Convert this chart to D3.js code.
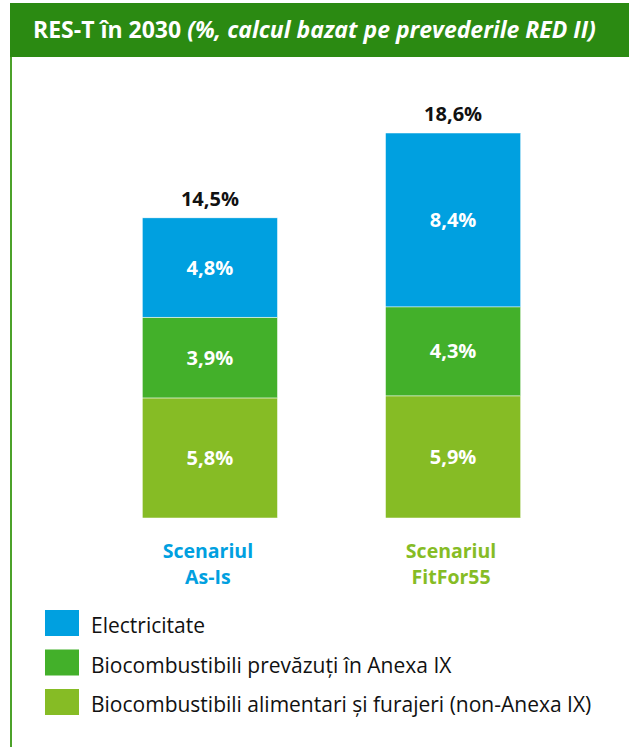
<!DOCTYPE html>
<html>
<head>
<meta charset="utf-8">
<script src="https://cdn.jsdelivr.net/npm/d3@7"></script>
<style>
  body { margin: 0; background: #fff; }
  svg { display: block; font-family: "Open Sans", Lato, sans-serif; }
</style>
</head>
<body>
<svg id="chart" width="629" height="747"></svg>
<script>
// data
const scenarios = ["As-Is", "FitFor55"];
const seriesNames = ["Biocombustibili alimentari și furajeri (non-Anexa IX)", "Biocombustibili prevăzuți în Anexa IX", "Electricitate"];
const nonAnexa = [5.8, 5.9];
const anexaIX = [3.9, 4.3];
const electricitate = [4.8, 8.4];
const totals = [14.5, 18.6];

const colors = ["#86bc25", "#43b02a", "#00a0e0"];
const catColors = ["#00a0e0", "#86bc25"];

const svg = d3.select("#chart");
const fmt = v => d3.format(".1f")(v).replace(".", ",") + "%";

// header + left border
svg.append("rect").attr("x", 10).attr("y", 3).attr("width", 619).attr("height", 54).attr("fill", "#2b8a12");
svg.append("rect").attr("x", 10).attr("y", 57).attr("width", 2).attr("height", 690).attr("fill", "#4ca22a");

const title = svg.append("text").attr("x", 33).attr("y", 38)
  .attr("fill", "#fff").attr("font-size", 23).attr("font-weight", "bold");
title.append("tspan").text("RES-T în 2030 ");
title.append("tspan").attr("font-style", "italic").text("(%, calcul bazat pe prevederile RED II)");

// scales
const x = d3.scaleBand().domain(scenarios).range([45, 618]).paddingInner(0.444).paddingOuter(0.4);
const y = d3.scaleLinear().domain([0, 18.6]).range([518, 133]);

const rows = scenarios.map((s, i) => ({ scen: s, nonAnexa: nonAnexa[i], anexaIX: anexaIX[i], electricitate: electricitate[i] }));
const stack = d3.stack().keys(["nonAnexa", "anexaIX", "electricitate"])(rows);

const layers = svg.selectAll("g.layer").data(stack).enter().append("g").attr("fill", (d, i) => colors[i]);
layers.selectAll("rect").data(d => d).enter().append("rect")
  .attr("x", d => x(d.data.scen))
  .attr("width", x.bandwidth())
  .attr("y", d => y(d[1]))
  .attr("height", d => y(d[0]) - y(d[1]))
  .attr("stroke", "#fff").attr("stroke-width", 0.5);

layers.selectAll("text").data(d => d).enter().append("text")
  .attr("x", d => x(d.data.scen) + x.bandwidth() / 2)
  .attr("y", d => (y(d[0]) + y(d[1])) / 2)
  .attr("dy", "0.35em")
  .attr("text-anchor", "middle")
  .attr("fill", "#fff").attr("font-size", 20).attr("font-weight", "bold")
  .text(d => fmt(d[1] - d[0]));

// totals
svg.selectAll("text.total").data(scenarios).enter().append("text")
  .attr("class", "total")
  .attr("x", d => x(d) + x.bandwidth() / 2)
  .attr("y", (d, i) => y(totals[i]) - 12)
  .attr("text-anchor", "middle")
  .attr("font-size", 20).attr("font-weight", "bold").attr("fill", "#111")
  .text((d, i) => fmt(totals[i]));

// category labels
scenarios.forEach((s, i) => {
  const cx = x(s) + x.bandwidth() / 2 - 2;
  const t = svg.append("text")
    .attr("text-anchor", "middle")
    .attr("font-size", 19.5).attr("font-weight", "bold").attr("fill", catColors[i]);
  t.append("tspan").attr("x", cx).attr("y", 558).text("Scenariul");
  t.append("tspan").attr("x", cx).attr("y", 584).text(s);
});

// legend (top to bottom: electricitate first)
const legendOrder = [2, 1, 0];
const leg = svg.selectAll("g.leg").data(legendOrder).enter().append("g")
  .attr("transform", (d, i) => `translate(45, ${610 + i * 39.5})`);
leg.append("rect").attr("width", 34).attr("height", 26).attr("fill", d => colors[d]);
leg.append("text").attr("x", 46).attr("y", 23)
  .attr("font-size", 21).attr("fill", "#111")
  .text(d => seriesNames[d]);
</script>
</body>
</html>
